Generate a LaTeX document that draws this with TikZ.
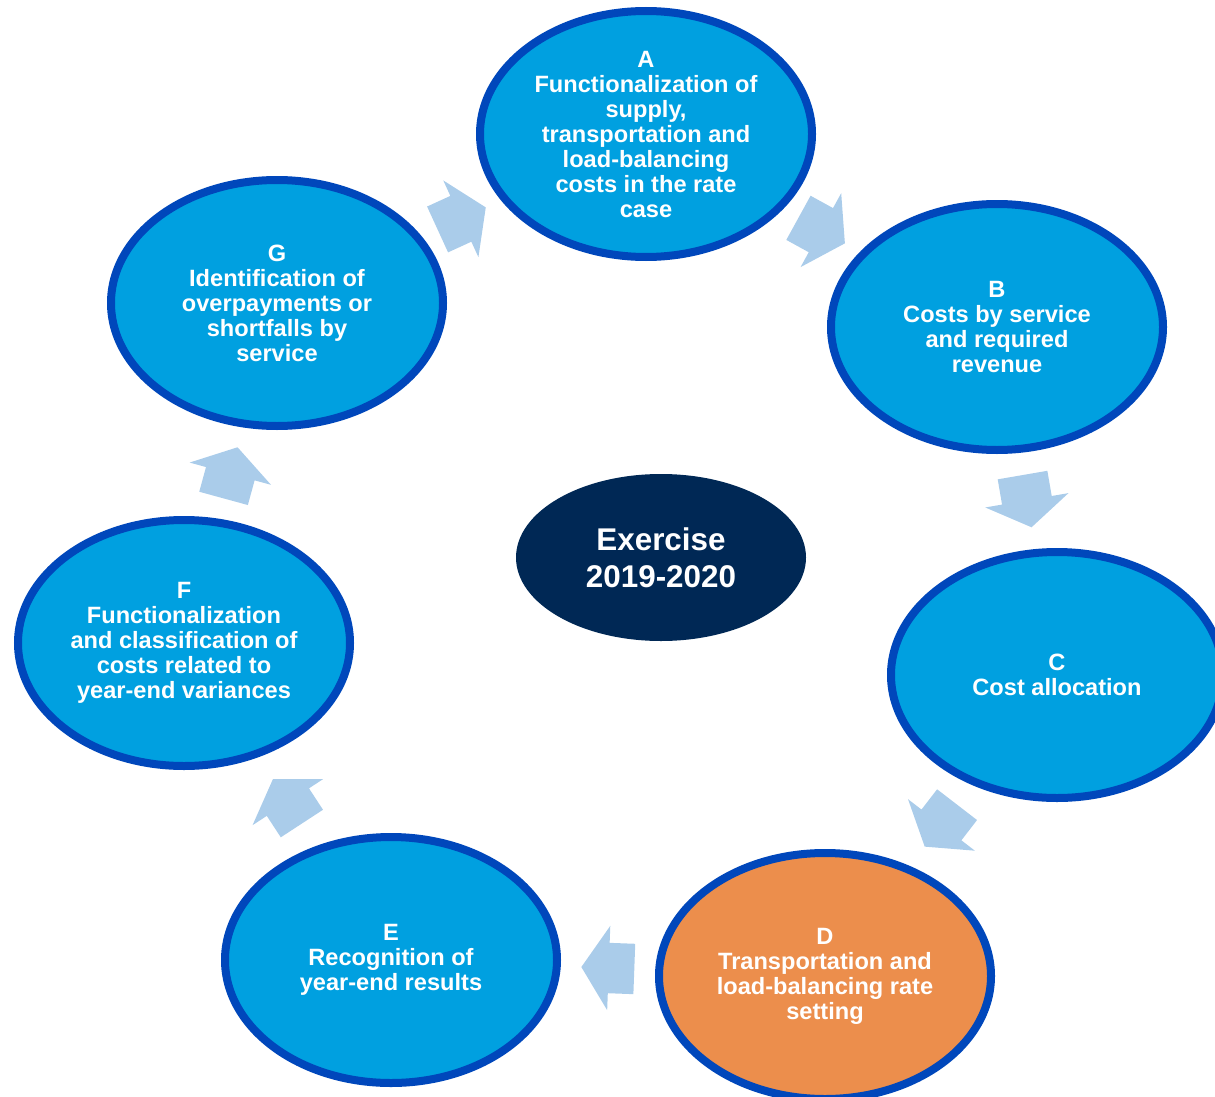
\documentclass[tikz,border=0pt]{standalone}
\usepackage{fontspec}
\setmainfont{Liberation Sans}
\usetikzlibrary{shapes.geometric,shapes.arrows}

\definecolor{stagefill}{HTML}{00A0E0}
\definecolor{stageline}{HTML}{0047BB}
\definecolor{rateorange}{HTML}{EC8E4C}
\definecolor{hubnavy}{HTML}{002855}
\definecolor{flowblue}{HTML}{AACCEA}

\tikzset{
  stage/.style={ellipse, draw=stageline, line width=8pt, fill=stagefill,
    minimum width=332pt, minimum height=246pt, inner sep=0pt},
  stagetext/.style={text=white, align=center, inner sep=0pt,
    font=\fontsize{23.6}{25}\selectfont\bfseries},
  hub/.style={ellipse, fill=hubnavy, minimum width=290pt, minimum height=167pt,
    inner sep=0pt, text=white, align=center,
    font=\fontsize{31.4}{37}\selectfont\bfseries},
  % shaft 50pt wide (2 x inner ysep), head 84pt wide, 53pt long overall;
  % shifted back so the arrow sits centred between the two stages
  flow/.style={single arrow, fill=flowblue, draw=none,
    inner xsep=0pt, inner ysep=25pt, minimum height=53pt,
    single arrow head extend=17pt, single arrow tip angle=114,
    sloped, allow upside down, midway, xshift=-8pt},
}

\begin{document}
\begin{tikzpicture}[x=1pt,y=1pt]
  \useasboundingbox (0,0) rectangle (1215,-1097);
  \clip (0,0) rectangle (1215,-1097);

  % cycle stages
  \node[stage] (A) at (646,-134) {};
  \node[stage] (B) at (997,-327) {};
  \node[stage] (C) at (1057,-675) {};
  \node[stage, fill=rateorange] (D) at (825,-976) {};
  \node[stage] (E) at (391,-960) {};
  \node[stage] (F) at (184,-643) {};
  \node[stage] (G) at (277,-303) {};

  \node[stagetext] (At) at (A) {A\\Functionalization of\\supply,\\transportation and\\load-balancing\\costs in the rate\\case};
  \node[stagetext] (Bt) at (B) {B\\Costs by service\\and required\\revenue};
  \node[stagetext] (Ct) at (C) {C\\Cost allocation};
  \node[stagetext] (Dt) at (D) {D\\Transportation and\\load-balancing rate\\setting};
  \node[stagetext] (Et) at (E) {E\\Recognition of\\year-end results};
  \node[stagetext] (Ft) at (F) {F\\Functionalization\\and classification of\\costs related to\\year-end variances};
  \node[stagetext] (Gt) at (G) {G\\Identification of\\overpayments or\\shortfalls by\\service};

  % central label
  \node[hub] (hub) at (661,-557.5) {Exercise\\2019-2020};

  % block arrows between consecutive stages
  \path (A.center) -- (B.center) node[flow] (ab) {};
  \path (B.center) -- (C.center) node[flow] (bc) {};
  \path (C.center) -- (D.center) node[flow] (cd) {};
  \path (D.center) -- (E.center) node[flow] (de) {};
  \path (E.center) -- (F.center) node[flow] (ef) {};
  \path (F.center) -- (G.center) node[flow] (fg) {};
  \path (G.center) -- (A.center) node[flow] (ga) {};
\end{tikzpicture}
\end{document}
